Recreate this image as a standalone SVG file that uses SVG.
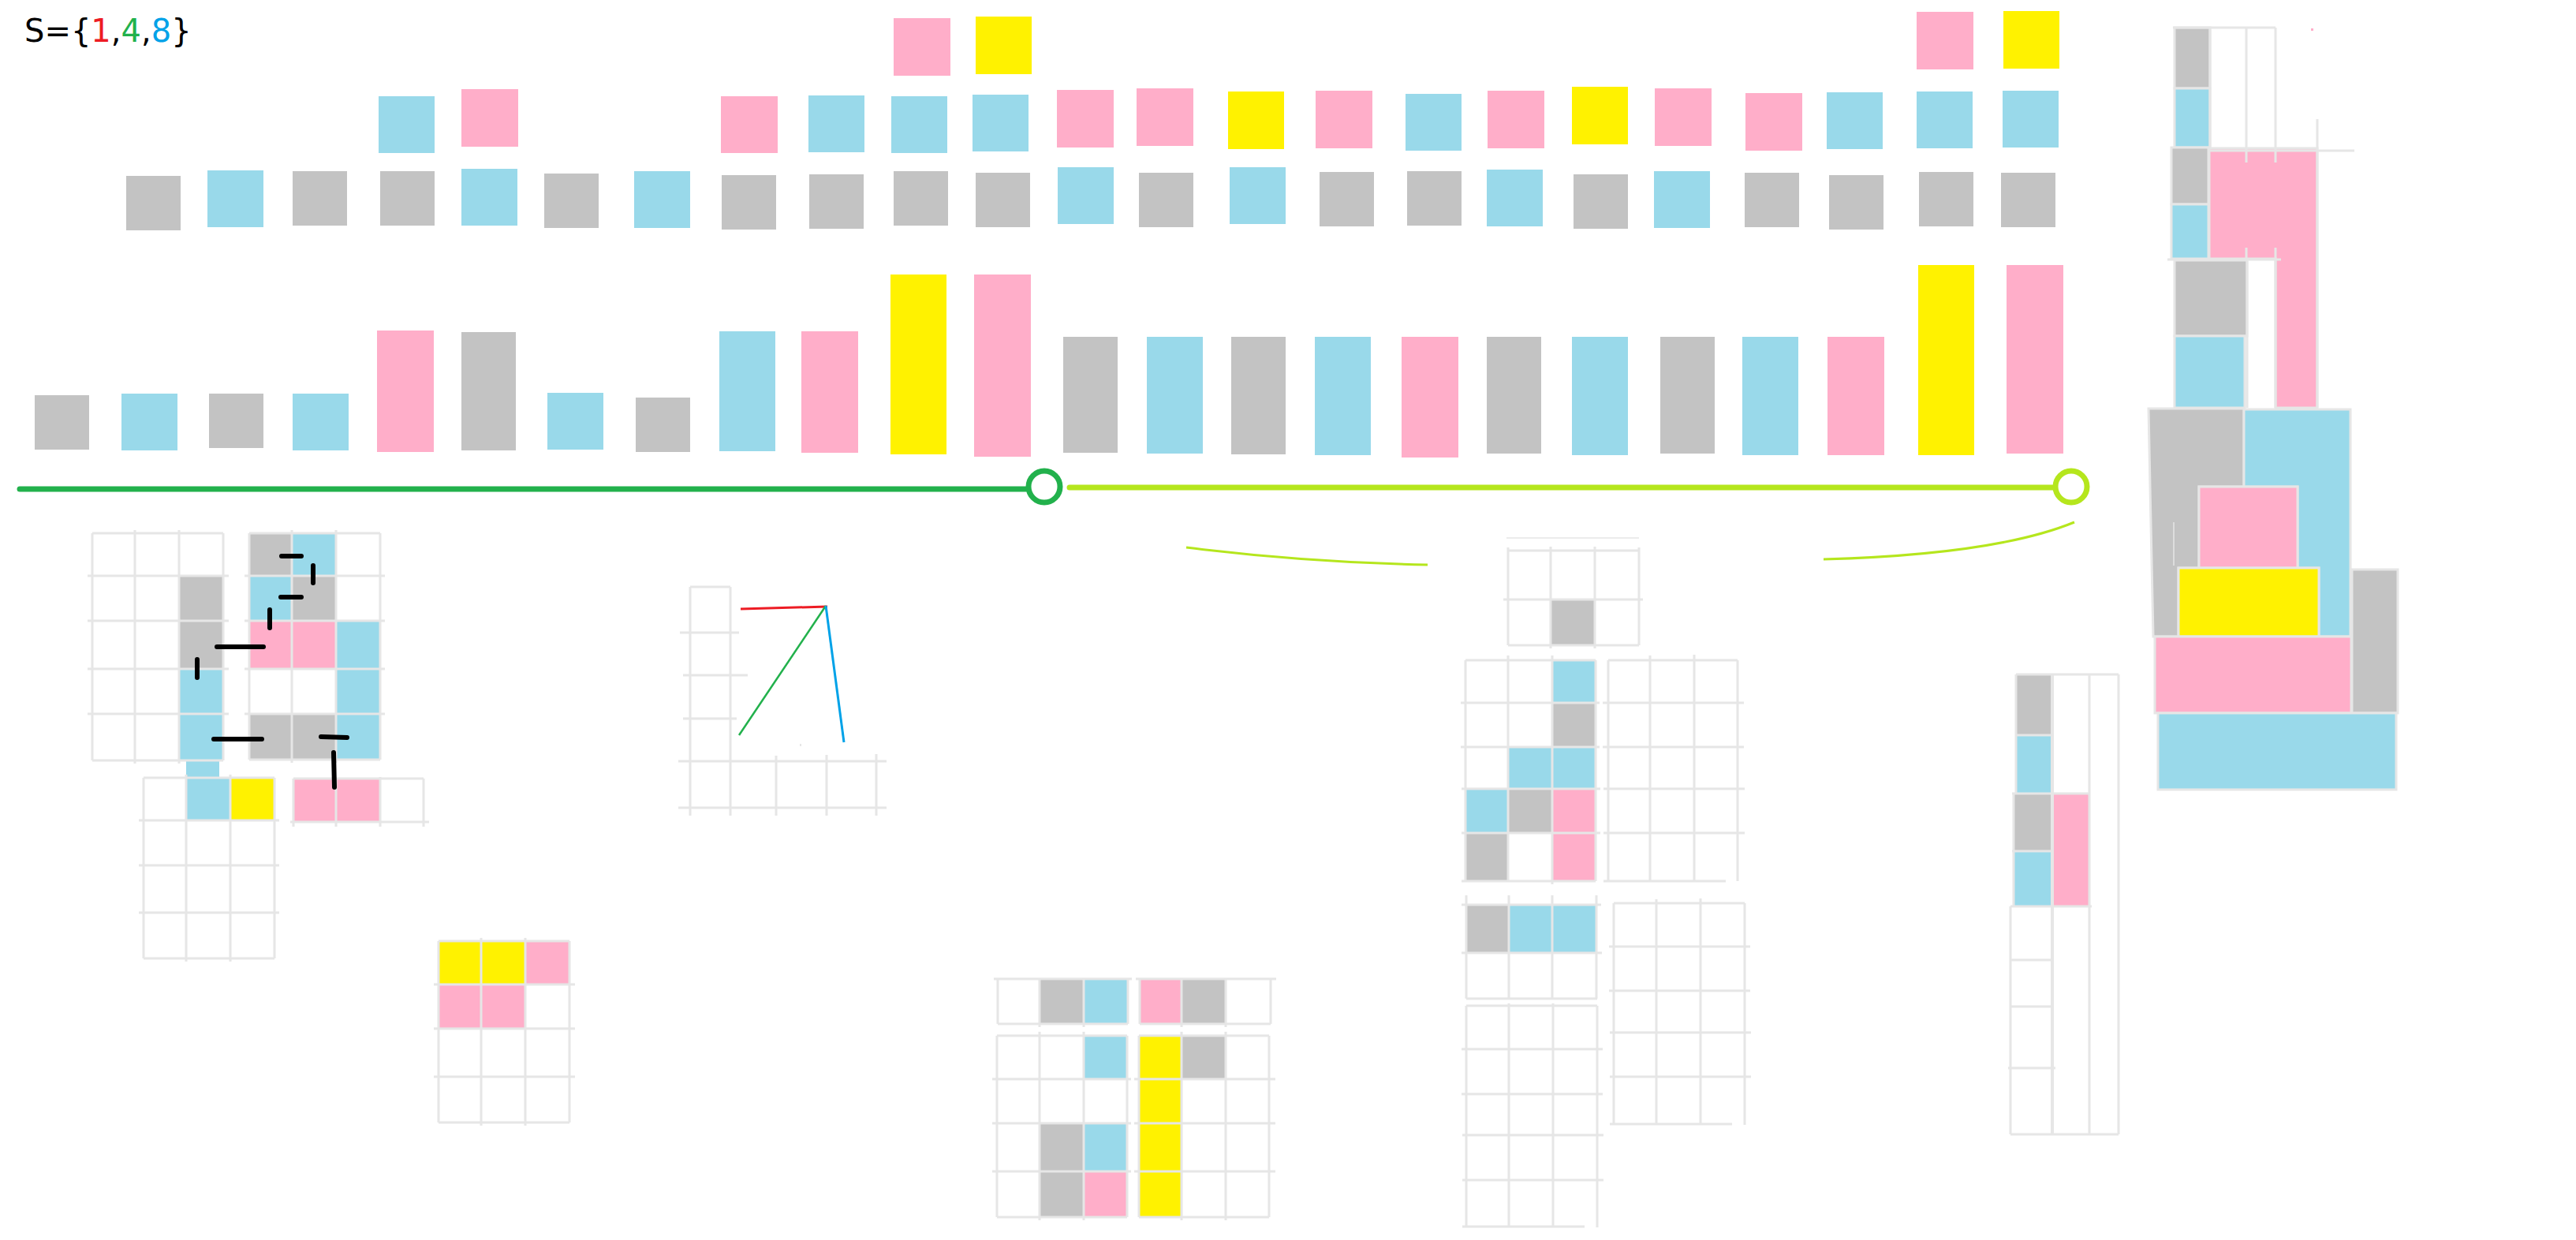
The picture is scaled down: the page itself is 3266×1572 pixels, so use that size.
<svg xmlns="http://www.w3.org/2000/svg" width="3266" height="1572" viewBox="0 0 3266 1572">
<style>
.g{fill:#c3c3c3}.b{fill:#99d9ea}.p{fill:#ffaec9}.y{fill:#fff200}
.gl{fill:none;stroke:#e6e6e6;stroke-width:3}
.tc{stroke:#e6e6e6;stroke-width:3}
.bk{fill:none;stroke:#000;stroke-width:6;stroke-linecap:round}
</style>
<rect width="3266" height="1572" fill="#fff"/>
<g id="title"><text x="31" y="53" font-family="DejaVu Sans, sans-serif" font-size="40" fill="#000">S={<tspan fill="#ed1c24">1</tspan>,<tspan fill="#22b14c">4</tspan>,<tspan fill="#00a2e8">8</tspan>}</text></g>
<g id="bars-row1">
<rect class="p" x="1133" y="23" width="72" height="73"/><rect class="y" x="1237" y="21" width="71" height="73"/>
<rect class="p" x="2430" y="15" width="72" height="73"/><rect class="y" x="2540" y="14" width="71" height="73"/>
</g>
<g id="bars-row2">
<rect class="b" x="480" y="122" width="71" height="72"/><rect class="p" x="585" y="113" width="72" height="73"/>
<rect class="p" x="914" y="122" width="72" height="72"/><rect class="b" x="1025" y="121" width="71" height="72"/>
<rect class="b" x="1130" y="122" width="71" height="72"/><rect class="b" x="1233" y="120" width="71" height="72"/>
<rect class="p" x="1340" y="114" width="72" height="73"/><rect class="p" x="1441" y="112" width="72" height="73"/>
<rect class="y" x="1557" y="116" width="71" height="73"/><rect class="p" x="1668" y="115" width="72" height="73"/>
<rect class="b" x="1782" y="119" width="71" height="72"/><rect class="p" x="1886" y="115" width="72" height="73"/>
<rect class="y" x="1993" y="110" width="71" height="73"/><rect class="p" x="2098" y="112" width="72" height="73"/>
<rect class="p" x="2213" y="118" width="72" height="73"/><rect class="b" x="2316" y="117" width="71" height="72"/>
<rect class="b" x="2430" y="116" width="71" height="72"/><rect class="b" x="2539" y="115" width="71" height="72"/>
</g>
<g id="bars-row3">
<rect class="g" x="160" y="223" width="69" height="69"/><rect class="b" x="263" y="216" width="71" height="72"/>
<rect class="g" x="371" y="217" width="69" height="69"/><rect class="g" x="482" y="217" width="69" height="69"/>
<rect class="b" x="585" y="214" width="71" height="72"/><rect class="g" x="690" y="220" width="69" height="69"/>
<rect class="b" x="804" y="217" width="71" height="72"/><rect class="g" x="915" y="222" width="69" height="69"/>
<rect class="g" x="1026" y="221" width="69" height="69"/><rect class="g" x="1133" y="217" width="69" height="69"/>
<rect class="g" x="1237" y="219" width="69" height="69"/><rect class="b" x="1341" y="212" width="71" height="72"/>
<rect class="g" x="1444" y="219" width="69" height="69"/><rect class="b" x="1559" y="212" width="71" height="72"/>
<rect class="g" x="1673" y="218" width="69" height="69"/><rect class="g" x="1784" y="217" width="69" height="69"/>
<rect class="b" x="1885" y="215" width="71" height="72"/><rect class="g" x="1995" y="221" width="69" height="69"/>
<rect class="b" x="2097" y="217" width="71" height="72"/><rect class="g" x="2212" y="219" width="69" height="69"/>
<rect class="g" x="2319" y="222" width="69" height="69"/><rect class="g" x="2433" y="218" width="69" height="69"/>
<rect class="g" x="2537" y="219" width="69" height="69"/>
</g>
<g id="bars-row4">
<rect class="g" x="44" y="501" width="69" height="69"/><rect class="b" x="154" y="499" width="71" height="72"/>
<rect class="g" x="265" y="499" width="69" height="69"/><rect class="b" x="371" y="499" width="71" height="72"/>
<rect class="p" x="478" y="419" width="72" height="154"/><rect class="g" x="585" y="421" width="69" height="150"/>
<rect class="b" x="694" y="498" width="71" height="72"/><rect class="g" x="806" y="504" width="69" height="69"/>
<rect class="b" x="912" y="420" width="71" height="152"/><rect class="p" x="1016" y="420" width="72" height="154"/>
<rect class="y" x="1129" y="348" width="71" height="228"/><rect class="p" x="1235" y="348" width="72" height="231"/>
<rect class="g" x="1348" y="427" width="69" height="147"/><rect class="b" x="1454" y="427" width="71" height="148"/>
<rect class="g" x="1561" y="427" width="69" height="149"/><rect class="b" x="1667" y="427" width="71" height="150"/>
<rect class="p" x="1777" y="427" width="72" height="153"/><rect class="g" x="1885" y="427" width="69" height="148"/>
<rect class="b" x="1993" y="427" width="71" height="150"/><rect class="g" x="2105" y="427" width="69" height="148"/>
<rect class="b" x="2209" y="427" width="71" height="150"/><rect class="p" x="2317" y="427" width="72" height="150"/>
<rect class="y" x="2432" y="336" width="71" height="241"/><rect class="p" x="2544" y="336" width="72" height="239"/>
</g>
<g id="connectors">
<path d="M25 620H1301" stroke="#22b14c" stroke-width="7" stroke-linecap="round" fill="none"/>
<circle cx="1324" cy="617" r="20" fill="none" stroke="#22b14c" stroke-width="7"/>
<path d="M1356 618H2604" stroke="#b5e61d" stroke-width="7" stroke-linecap="round" fill="none"/>
<circle cx="2626" cy="617" r="20" fill="none" stroke="#b5e61d" stroke-width="7"/>
<path d="M1504 694Q1657 713 1810 716" stroke="#b5e61d" stroke-width="3" fill="none"/>
<path d="M2312 709Q2530 703 2630 662" stroke="#b5e61d" stroke-width="3" fill="none"/>
</g>
<g id="grid1">
<rect class="g" x="227" y="730" width="56" height="118"/><rect class="b" x="227" y="848" width="56" height="116"/>
<rect class="b" x="236" y="962" width="42" height="25"/>
<path class="gl" d="M117 676H283M111 730H290M111 787H290M111 848H290M111 905H290M117 964H283M117 676V964M171 672V968M227 672V968M283 676V964"/>
</g>
<g id="grid2">
<rect class="g" x="316" y="676" width="54" height="54"/><rect class="b" x="370" y="676" width="56" height="54"/>
<rect class="b" x="316" y="730" width="54" height="57"/><rect class="g" x="370" y="730" width="56" height="57"/>
<rect class="p" x="316" y="787" width="110" height="61"/><rect class="b" x="426" y="787" width="56" height="61"/>
<rect class="b" x="426" y="848" width="56" height="57"/><rect class="g" x="316" y="905" width="110" height="58"/>
<rect class="b" x="426" y="905" width="56" height="58"/>
<path class="gl" d="M316 676H482M310 730H488M310 787H488M310 848H488M310 905H488M316 963H482M316 676V963M370 672V967M426 672V967M482 676V963"/>
</g>
<g id="grid3">
<rect class="b" x="236" y="986" width="56" height="54"/><rect class="y" x="292" y="986" width="56" height="54"/>
<path class="gl" d="M182 986H348M176 1040H354M176 1097H354M176 1157H354M182 1215H348M182 986V1215M236 982V1219M292 982V1219M348 986V1215"/>
</g>
<g id="grid4">
<rect class="p" x="372" y="987" width="110" height="55"/>
<path class="gl" d="M372 987H537M368 1042H544M372 987V1048M426 987V1048M482 985V1048M537 987V1048"/>
</g>
<g id="path-marks">
<path class="bk" d="M357 705H382M397 717V739M356 757H382M342 773V796M275 820H334M250 836V859M271 937H332M407 934L440 935M423 954L424 998"/>
</g>
<g id="graph">
<path class="gl" d="M875 744V1034M926 744V1034M875 744H926M862 802H937M866 856H948M866 911H934M860 965H1124M860 1024H1124M984 958V1034M1048 957V1034M1111 956V1034"/>
<rect x="1014" y="943" width="2" height="3" fill="#e6e6e6"/>
<path d="M939 772L1049 769" stroke="#ed1c24" stroke-width="3" fill="none"/>
<path d="M937 932L1047 768" stroke="#22b14c" stroke-width="2.5" fill="none"/>
<path d="M1047 768L1070 941" stroke="#00a2e8" stroke-width="3" fill="none"/>
</g>
<g id="grid5">
<rect class="y" x="556" y="1193" width="110" height="55"/><rect class="p" x="666" y="1193" width="56" height="55"/>
<rect class="p" x="556" y="1248" width="110" height="56"/>
<path class="gl" d="M556 1193H722M550 1248H729M550 1304H729M550 1365H729M556 1423H722M556 1193V1423M610 1189V1427M666 1189V1427M722 1193V1423"/>
</g>
<g id="strip-left">
<rect class="g" x="1318" y="1241" width="56" height="57"/><rect class="b" x="1374" y="1241" width="56" height="57"/>
<path class="gl" d="M1260 1241H1435M1265 1298H1430M1265 1241V1298M1318 1241V1302M1374 1241V1302M1430 1241V1298"/>
</g>
<g id="strip-right">
<rect class="p" x="1445" y="1241" width="53" height="57"/><rect class="g" x="1498" y="1241" width="56" height="57"/>
<path class="gl" d="M1440 1241H1618M1445 1298H1611M1445 1241V1298M1498 1241V1302M1554 1241V1302M1611 1241V1298"/>
</g>
<g id="grid-bl">
<rect class="b" x="1374" y="1313" width="55" height="55"/><rect class="g" x="1318" y="1424" width="56" height="61"/>
<rect class="b" x="1374" y="1424" width="55" height="61"/><rect class="g" x="1318" y="1485" width="56" height="58"/>
<rect class="p" x="1374" y="1485" width="55" height="58"/>
<path class="gl" d="M1264 1313H1429M1258 1368H1434M1258 1424H1434M1258 1485H1434M1264 1543H1429M1264 1313V1543M1318 1308V1547M1374 1308V1547M1429 1313V1543"/>
</g>
<g id="grid-br">
<rect class="y" x="1444" y="1313" width="54" height="230"/><rect class="g" x="1498" y="1313" width="56" height="55"/>
<path class="gl" d="M1444 1313H1609M1438 1368H1617M1438 1424H1617M1438 1485H1617M1444 1543H1609M1444 1313V1543M1498 1308V1547M1554 1308V1547M1609 1313V1543"/>
</g>
<g id="grid-top-small">
<rect class="g" x="1966" y="760" width="56" height="58"/>
<path d="M1910 682H2078" stroke="#e6e6e6" stroke-width="1.5" fill="none"/>
<path class="gl" d="M1912 698H2078M1906 760H2083M1912 818H2078M1912 694V818M1966 693V822M2022 693V822M2078 694V818"/>
</g>
<g id="grid-a">
<rect class="b" x="1968" y="837" width="55" height="54"/><rect class="g" x="1968" y="891" width="55" height="56"/>
<rect class="b" x="1912" y="947" width="111" height="53"/><rect class="b" x="1858" y="1000" width="54" height="56"/>
<rect class="g" x="1912" y="1000" width="56" height="56"/><rect class="p" x="1968" y="1000" width="55" height="56"/>
<rect class="g" x="1858" y="1056" width="54" height="61"/><rect class="p" x="1968" y="1056" width="55" height="61"/>
<path class="gl" d="M1858 837H2023M1852 891H2028M1852 947H2028M1853 1000H2029M1853 1056H2029M1853 1117H2023M1858 837V1117M1912 831V1117M1968 831V1121M2023 837V1117"/>
</g>
<g id="grid-b">
<path class="gl" d="M2039 837H2203M2032 891H2211M2032 947H2211M2033 1000H2212M2033 1056H2212M2033 1117H2188M2039 837V1117M2092 831V1117M2148 830V1117M2203 837V1117"/>
</g>
<g id="grid-c">
<rect class="g" x="1859" y="1147" width="54" height="61"/><rect class="b" x="1913" y="1147" width="111" height="61"/>
<path class="gl" d="M1853 1147H2030M1853 1208H2031M1859 1266H2025M1859 1135V1266M1913 1135V1266M1968 1135V1266M2024 1135V1266"/>
</g>
<g id="grid-d">
<path class="gl" d="M1859 1275H2025M1853 1330H2032M1853 1387H2032M1854 1439H2033M1854 1496H2033M1854 1555H2009M1859 1275V1555M1913 1272V1555M1969 1272V1555M2025 1275V1556"/>
</g>
<g id="grid-e">
<path class="gl" d="M2046 1145H2212M2040 1200H2219M2040 1256H2219M2041 1309H2220M2041 1365H2220M2041 1425H2196M2046 1145V1425M2100 1140V1425M2156 1139V1425M2212 1145V1426"/>
</g>
<g id="column-right">
<rect class="g" x="2556" y="855" width="46" height="77"/><rect class="b" x="2556" y="932" width="46" height="74"/>
<rect class="g" x="2553" y="1006" width="47" height="73"/><rect class="b" x="2553" y="1079" width="47" height="70"/>
<rect class="p" x="2602" y="1007" width="47" height="142"/>
<path class="gl" d="M2556 855H2686M2556 855V1006M2553 1006V1149M2549 1149V1438M2549 1438H2686M2686 855V1438M2649 855V1438M2556 932H2602M2551 1006H2650M2551 1079H2600M2549 1149H2652M2549 1217H2600M2549 1276H2600M2546 1354H2606"/>
<path d="M2602 855V1438" stroke="#e6e6e6" stroke-width="4" fill="none"/>
</g>
<g id="tower">
<rect class="g tc" x="2757" y="35" width="45" height="77"/><rect class="b tc" x="2757" y="112" width="45" height="75"/>
<rect class="g tc" x="2753" y="187" width="47" height="72"/><rect class="b tc" x="2753" y="259" width="47" height="69"/>
<path class="p tc" d="M2801 188H2938V517H2885V328H2801Z"/>
<rect class="g tc" x="2757" y="330" width="92" height="96"/><rect class="b tc" x="2757" y="426" width="89" height="91"/>
<path class="g tc" d="M2724 518H2845V617H2788V720H2762V807H2730L2726 617Z"/>
<path class="b tc" d="M2845 519H2980V807H2940V720H2913V617H2845Z"/>
<rect class="p tc" x="2788" y="617" width="125" height="103"/>
<rect class="y tc" x="2762" y="720" width="178" height="87"/>
<rect class="p tc" x="2732" y="807" width="249" height="97"/>
<rect class="g tc" x="2982" y="722" width="58" height="182"/>
<rect class="b tc" x="2736" y="904" width="302" height="97"/>
<path class="gl" d="M2755 35H2885M2802 35V188M2848 35V188M2885 35V188M2848 188V206M2885 188V206M2848 314V328M2885 314V328M2802 191H2985M2938 151V517M2748 329H2892M2849 330V517M2885 329V517"/>
<path d="M2756 662V717" stroke="#e6e6e6" stroke-width="1.5" fill="none"/>
<rect x="2930" y="36" width="3" height="3" fill="#ffaec9"/>
</g>
</svg>
